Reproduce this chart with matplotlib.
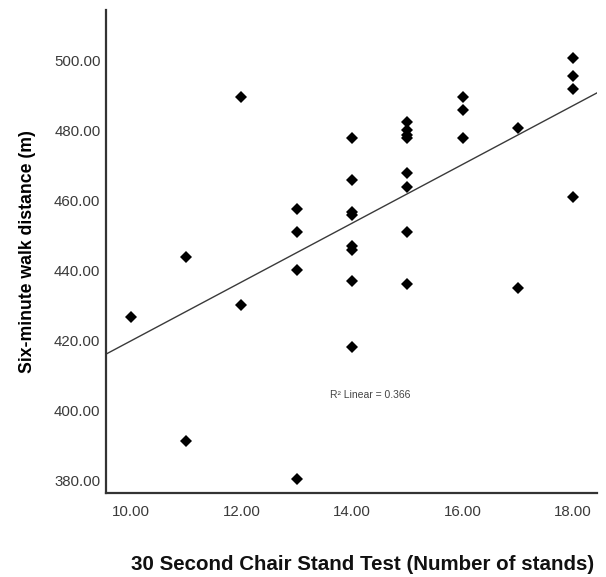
import numpy as np
import matplotlib
matplotlib.use("Agg")
import matplotlib.pyplot as plt

# Data
chair_stands = [10,
                11, 11,
                12, 12,
                13, 13, 13, 13,
                14, 14, 14, 14, 14, 14, 14, 14,
                15, 15, 15, 15, 15, 15, 15, 15,
                16, 16, 16,
                17, 17,
                18, 18, 18, 18]
walk_distance = [426.7,
                 443.7, 391.1,
                 489.5, 430.0,
                 457.4, 450.8, 440.0, 380.2,
                 477.8, 465.7, 456.7, 455.7, 446.8, 445.8, 437.0, 417.9,
                 482.4, 480.0, 478.6, 477.6, 467.6, 463.6, 450.8, 435.9,
                 489.5, 485.7, 477.8,
                 480.7, 434.8,
                 500.7, 495.5, 491.6, 460.8]
x_ticks = [10, 12, 14, 16, 18]
y_ticks = [380, 400, 420, 440, 460, 480, 500]
r2_label = "R² Linear = 0.366"

plt.rcParams['font.family'] = ['Liberation Sans', 'DejaVu Sans']

fig = plt.figure(figsize=(6.06, 5.77), dpi=100)
ax = fig.add_axes([0.175, 0.1456, 0.81, 0.837])

xmin, xmax = 9.55, 18.43
ymin, ymax = 376.3, 514.3

x = np.array(chair_stands, dtype=float)
y = np.array(walk_distance, dtype=float)
slope, intercept = np.polyfit(x, y, 1)
xl = np.array([xmin, xmax])
ax.plot(xl, intercept + slope * xl, color='#3a3a3a', lw=1.0, zorder=2)

ax.plot(x, y, linestyle='none', marker='D', markersize=6.6,
        color='black', markeredgewidth=0, zorder=3)

ax.set_xlim(xmin, xmax)
ax.set_ylim(ymin, ymax)
ax.set_xticks(x_ticks)
ax.set_xticklabels([f"{v:.2f}" for v in x_ticks])
ax.set_yticks(y_ticks)
ax.set_yticklabels([f"{v:.2f}" for v in y_ticks])
ax.tick_params(length=0, labelsize=10.8, colors='#3a3a3a')
ax.tick_params(axis='y', pad=4)
ax.tick_params(axis='x', pad=9)

for s in ['top', 'right']:
    ax.spines[s].set_visible(False)
for s in ['left', 'bottom']:
    ax.spines[s].set_color('#333333')
    ax.spines[s].set_linewidth(1.6)

ax.set_ylabel("Six-minute walk distance (m)", fontsize=12.7, fontweight='bold',
              labelpad=13)
fig.text(0.598, 1 - 564 / 577, "30 Second Chair Stand Test (Number of stands)",
         ha='center', va='center', fontsize=14.8, fontweight='bold', color='#111111')

ax.text(370 / 606, 1 - 395 / 577, r2_label, transform=fig.transFigure,
        ha='center', va='center', fontsize=7.5, color='#444444')

fig.savefig("out.png", dpi=100)
